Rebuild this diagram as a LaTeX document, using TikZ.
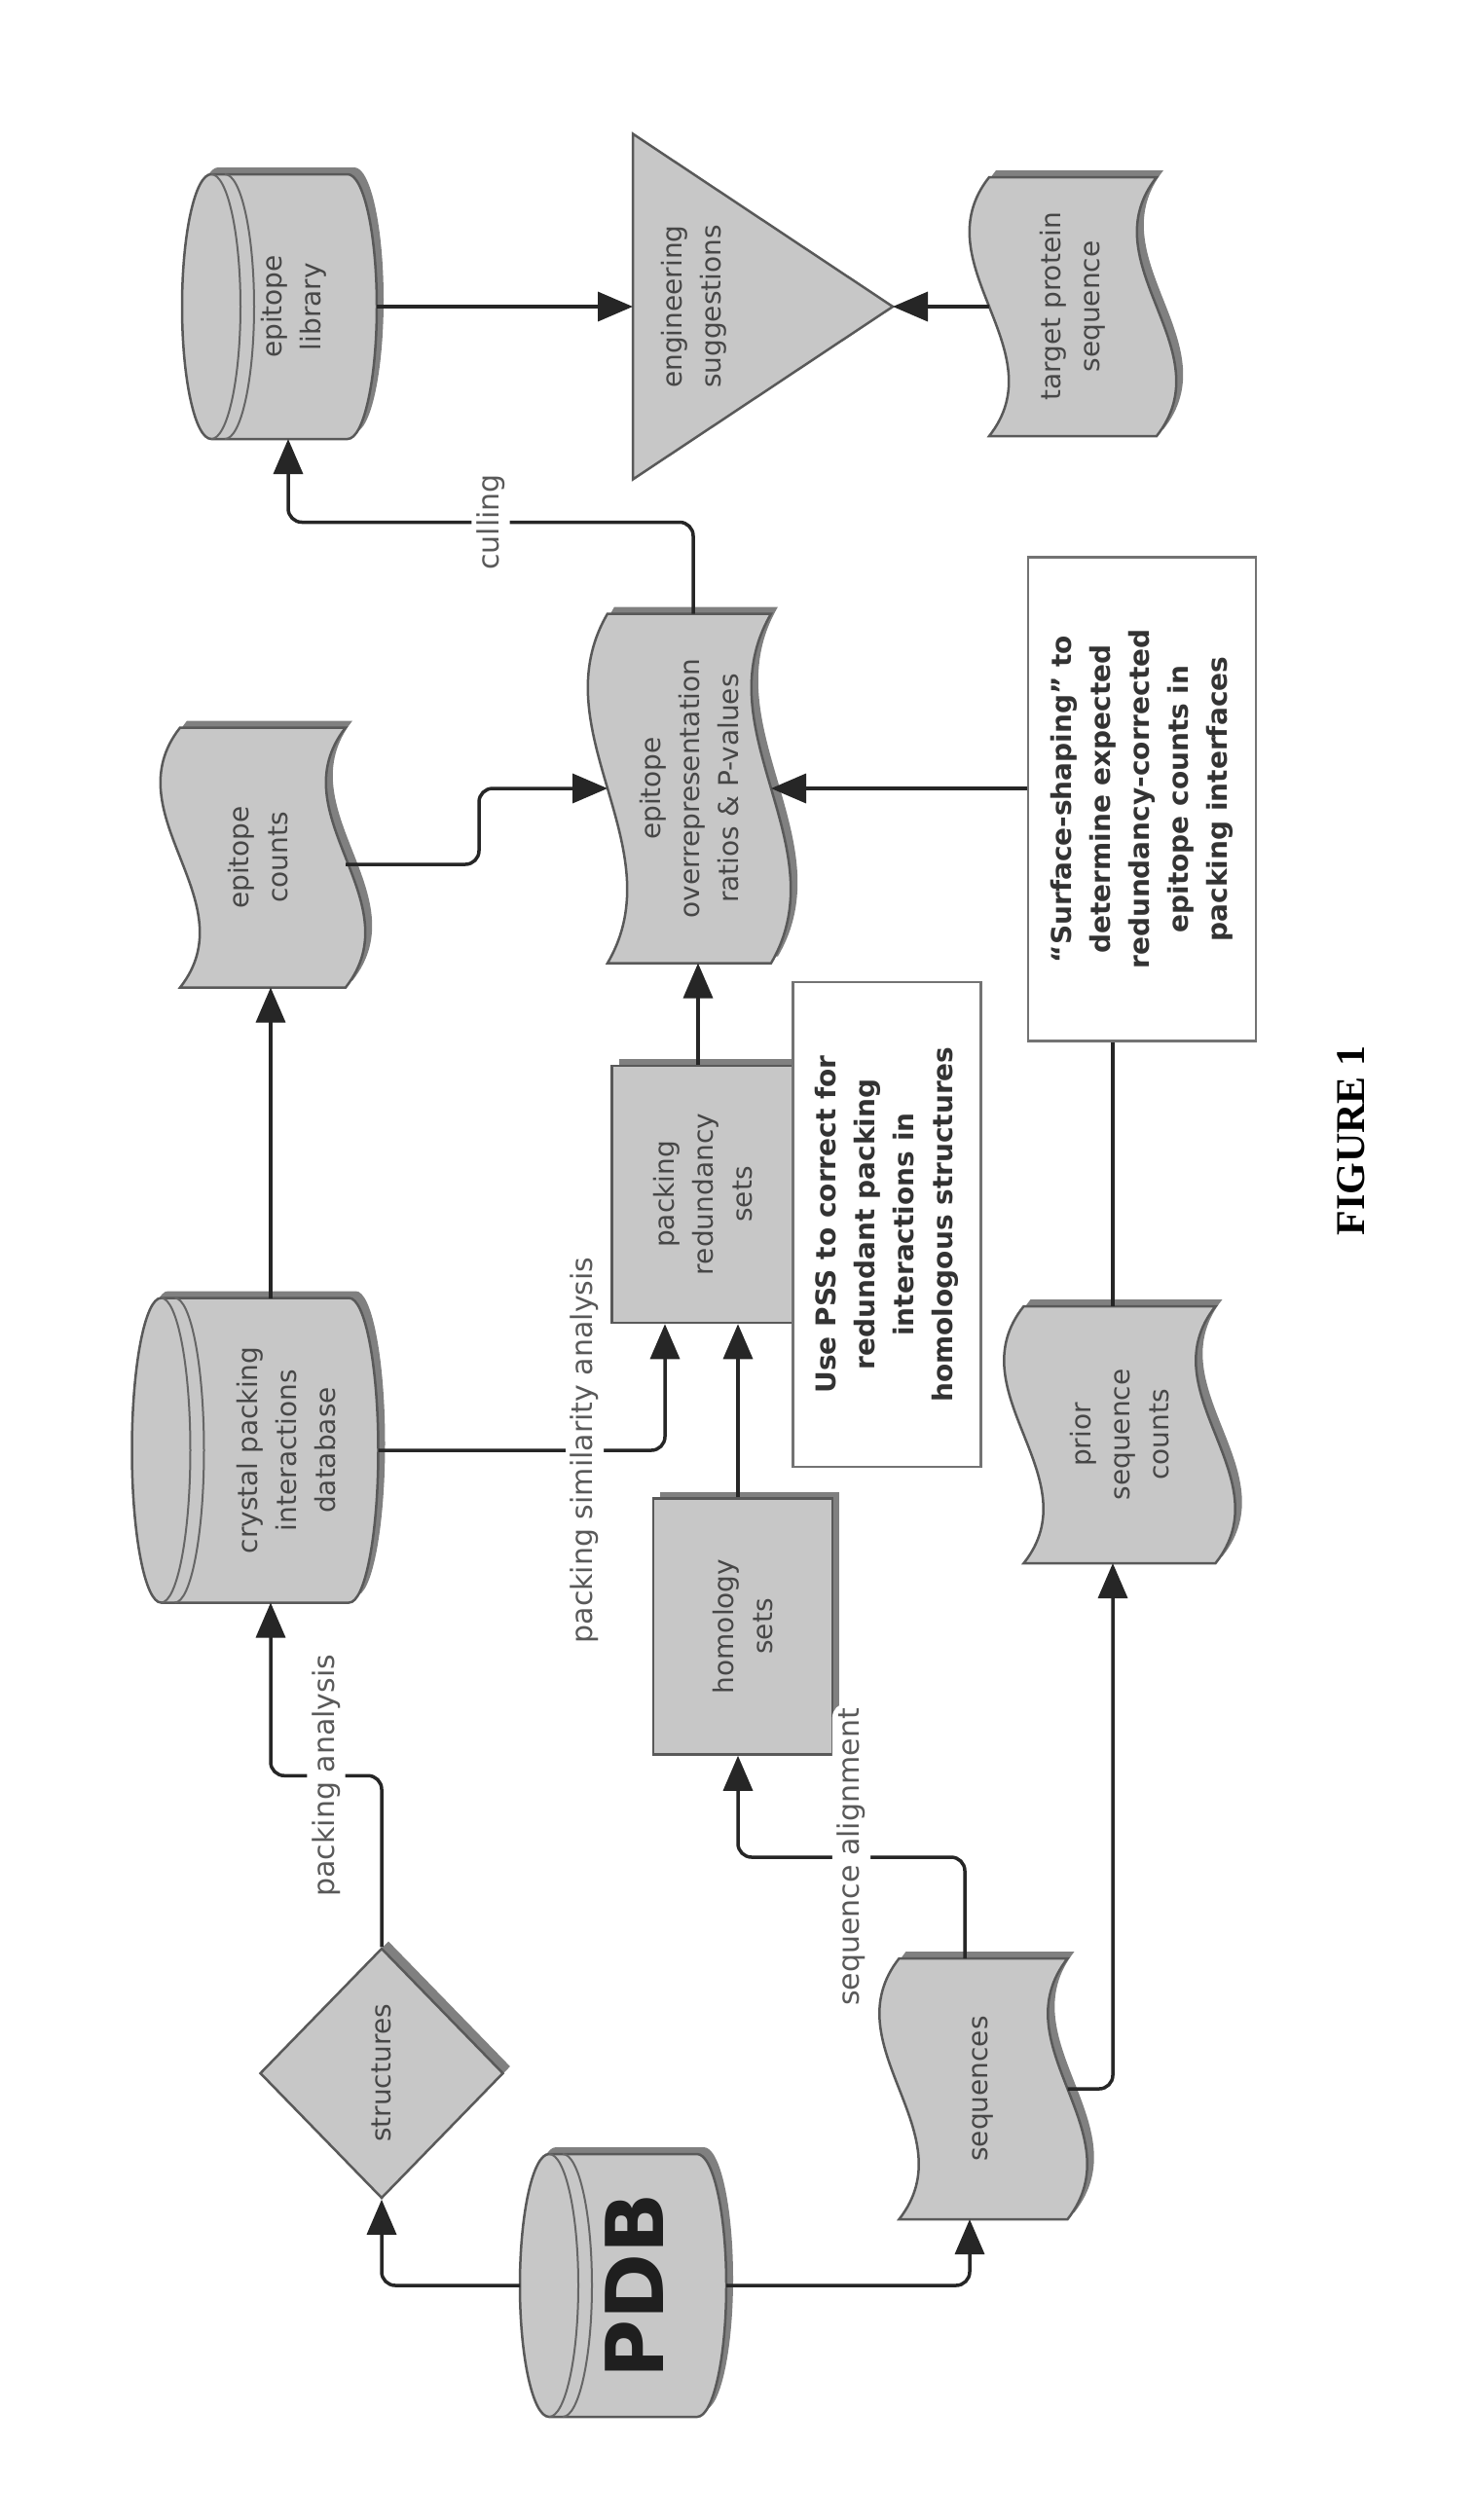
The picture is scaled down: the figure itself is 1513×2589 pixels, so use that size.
\documentclass[tikz,border=0pt]{standalone}
\usepackage{fontspec}
\setmainfont{DejaVu Sans}
\newfontfamily\figfont{Liberation Serif}
\usetikzlibrary{arrows.meta,shapes.geometric,calc}

\tikzset{
 anchorbox/.style={draw=none, inner sep=0pt, outer sep=0pt, rectangle},
 shapefill/.style={fill=black!22, draw=black!65, line width=2.5pt},
 shadowfill/.style={fill=black!50},
 ringline/.style={draw=black!60, line width=2pt},
 ntext/.style={rotate=90, font=\fontsize{28}{40}\selectfont, text=black!72, align=center, inner sep=0pt},
 btext/.style={rotate=90, font=\bfseries\fontsize{28}{40}\selectfont, text=black!80, align=center, inner sep=0pt},
 elabel/.style={rotate=90, font=\fontsize{30}{36}\selectfont, text=black!65, fill=white, inner sep=5pt},
 conn/.style={draw=black!85, line width=3.5pt, rounded corners=14pt, -{Triangle[length=36pt,width=30pt]}},
 plainconn/.style={draw=black!85, line width=3.5pt, rounded corners=14pt},
 notebox/.style={draw=black!55, line width=2.5pt, fill=white, rectangle, inner sep=0pt},
 rectbox/.style={rectangle, fill=black!22, draw=black!65, line width=2.5pt, inner sep=0pt},
 rectshadow/.style={rectangle, fill=black!50, draw=none, inner sep=0pt},
}

% cylinder lying on its side, cap on the left
\newcommand\DrawCyl[6]{%
 \pgfmathsetmacro\cxl{#2-#4/2}%
 \pgfmathsetmacro\cxr{#2+#4/2}%
 \pgfmathsetmacro\cyt{#3-#5/2}%
 \pgfmathsetmacro\cyb{#3+#5/2}%
 \pgfmathsetmacro\cry{#5/2}%
 \pgfmathsetmacro\cxa{\cxl+#6}%
 \pgfmathsetmacro\cxb{\cxr-#6}%
 \pgfmathsetmacro\cxc{\cxa+14}%
 \fill[shadowfill, shift={(7,-7)}] (\cxa,\cyt) -- (\cxb,\cyt) arc[start angle=90,end angle=-90,x radius=#6pt,y radius=\cry pt] -- (\cxa,\cyb) arc[start angle=270,end angle=90,x radius=#6pt,y radius=\cry pt] -- cycle;
 \path[shapefill] (\cxa,\cyt) -- (\cxb,\cyt) arc[start angle=90,end angle=-90,x radius=#6pt,y radius=\cry pt] -- (\cxa,\cyb) arc[start angle=270,end angle=90,x radius=#6pt,y radius=\cry pt] -- cycle;
 \draw[ringline] (\cxa,\cyt) arc[start angle=90,end angle=-90,x radius=#6pt,y radius=\cry pt];
 \draw[ringline] (\cxc,\cyt) arc[start angle=90,end angle=-90,x radius=#6pt,y radius=\cry pt];
 \node[anchorbox, minimum width=#4pt, minimum height=#5pt] (#1) at (#2,#3) {};
}

% tape with wavy left and right sides
\newcommand\DrawTape[5]{%
 \pgfmathsetmacro\txl{#2-#4/2+20}%
 \pgfmathsetmacro\txr{#2+#4/2-20}%
 \pgfmathsetmacro\tyt{#3-#5/2}%
 \pgfmathsetmacro\tyb{#3+#5/2}%
 \pgfmathsetmacro\tya{#3-#5/6}%
 \pgfmathsetmacro\tyc{#3+#5/6}%
 \pgfmathsetmacro\txlm{\txl-70}%
 \pgfmathsetmacro\txlp{\txl+70}%
 \pgfmathsetmacro\txrm{\txr-70}%
 \pgfmathsetmacro\txrp{\txr+70}%
 \pgfmathsetmacro\tw{#4-40}%
 \fill[shadowfill, shift={(7,-7)}] (\txl,\tyt) -- (\txr,\tyt) .. controls (\txrm,\tya) and (\txrp,\tyc) .. (\txr,\tyb) -- (\txl,\tyb) .. controls (\txlp,\tyc) and (\txlm,\tya) .. (\txl,\tyt) -- cycle;
 \path[shapefill] (\txl,\tyt) -- (\txr,\tyt) .. controls (\txrm,\tya) and (\txrp,\tyc) .. (\txr,\tyb) -- (\txl,\tyb) .. controls (\txlp,\tyc) and (\txlm,\tya) .. (\txl,\tyt) -- cycle;
 \node[anchorbox, minimum width=\tw pt, minimum height=#5pt] (#1) at (#2,#3) {};
}

\begin{document}
\begin{tikzpicture}[x=1pt,y=-1pt]
\useasboundingbox[fill=white] (0,0) rectangle (1513,2589);

% ---------- shapes ----------
\DrawCyl{pdb}{640}{2348}{212}{270}{30}
\node[rotate=90, font=\bfseries\fontsize{82}{90}\selectfont, text=black!88, inner sep=0pt] (pdbt) at (652,2348) {PDB};

\node[diamond, fill=black!50, minimum width=250pt, minimum height=257pt, inner sep=0pt] (structsh) at (399,2123) {};
\node[diamond, fill=black!22, draw=black!65, line width=2.5pt, minimum width=250pt, minimum height=257pt, inner sep=0pt] (struct) at (392,2130) {};
\node[ntext] (structt) at (392,2130) {structures};

\DrawTape{seq}{1010}{2146}{213}{268}
\node[ntext] (seqt) at (1010,2146) {sequences};

\DrawCyl{crystal}{262}{1490}{253}{313}{30}
\node[ntext] (crystalt) at (294,1490) {crystal packing\\interactions\\database};

\node[rectshadow, minimum width=184pt, minimum height=263pt] (homsh) at (770,1664) {};
\node[rectbox, minimum width=184pt, minimum height=263pt] (homology) at (763,1671) {};
\node[ntext] (homt) at (763,1671) {homology\\sets};

\node[rectshadow, minimum width=187pt, minimum height=264pt] (redsh) at (729,1220) {};
\node[rectbox, minimum width=187pt, minimum height=264pt] (redund) at (722,1227) {};
\node[ntext] (redt) at (722,1227) {packing\\redundancy\\sets};

\node[notebox, minimum width=193pt, minimum height=498pt] (pss) at (911,1258) {};
\node[btext] (psst) at (911,1258) {Use PSS to correct for\\redundant packing\\interactions in\\homologous structures};

\DrawTape{prior}{1150}{1474}{237}{264}
\node[ntext] (priort) at (1150,1474) {prior\\sequence\\counts};

\DrawTape{counts}{270}{881}{210}{267}
\node[ntext] (countst) at (265,881) {epitope\\counts};

\DrawTape{overrep}{708}{810}{208}{359}
\node[ntext] (overt) at (708,810) {epitope\\overrepresentation\\ratios \& P-values};

\node[notebox, minimum width=234pt, minimum height=497pt] (surface) at (1173,821) {};
\node[btext] (surft) at (1173,821) {“Surface-shaping” to\\determine expected\\redundancy-corrected\\epitope counts in\\packing interfaces};

\DrawCyl{library}{287}{315}{200}{272}{30}
\node[ntext] (libt) at (302,315) {epitope\\library};

\node[anchorbox, minimum width=267pt, minimum height=355pt] (tri) at (783.5,315) {};
\fill[shadowfill, shift={(7,-7)}] (tri.north west) -- (tri.east) -- (tri.south west) -- cycle;
\path[shapefill] (tri.north west) -- (tri.east) -- (tri.south west) -- cycle;
\node[ntext] (trit) at (713,315) {engineering\\suggestions};

\DrawTape{target}{1102}{315}{212}{266}
\node[ntext] (targett) at (1102,315) {target protein\\sequence};

\node[rotate=90, font=\figfont\bfseries\fontsize{42}{48}\selectfont, text=black, inner sep=0pt] (fig) at (1388,1172) {FIGURE 1};

% ---------- connectors ----------
\draw[conn] (pdb.west) -| (struct.south);
\draw[conn] (pdb.east) -| ([xshift=-14pt]seq.south);
\draw[conn] (struct.north) -- ++(0,-176) -| node[elabel,pos=0.25] (lpa) {packing analysis} ([xshift=16pt]crystal.south);
\draw[conn] ([xshift=-19pt]seq.north) -- ++(0,-104) -| node[elabel,pos=0.25] (lsa) {sequence alignment} ([xshift=-5pt]homology.south);
\draw[conn] (seq.east) -| ([xshift=-7pt]prior.south);
\draw[conn] ([xshift=16pt]crystal.north) -- ([xshift=16pt]crystal.north |- counts.south);
\draw[conn] (crystal.east) -| node[elabel,pos=0.36] (lpsa) {packing similarity analysis} ([xshift=-39pt]redund.south);
\draw[conn] ([xshift=-5pt]homology.north) -- ([xshift=-5pt]homology.north |- redund.south);
\draw[conn] ([xshift=-5pt]redund.north) -- ([xshift=-5pt]redund.north |- overrep.south);
\draw[conn] ([yshift=-7pt]counts.east) -- ++(137,0) |- (overrep.west);
\draw[conn] (surface.west |- overrep.east) -- (overrep.east);
\draw[conn] ([xshift=4pt]overrep.north) -- ++(0,-94) -| node[elabel,pos=0.25] (lcu) {culling} ([xshift=9pt]library.south);
\draw[conn] (library.east) -- (library.east -| tri.west);
\draw[conn] (target.west) -- (target.west -| tri.east);
\draw[plainconn] ([xshift=-7pt]prior.north) -- ([xshift=-7pt]prior.north |- surface.south);
\end{tikzpicture}
\end{document}
